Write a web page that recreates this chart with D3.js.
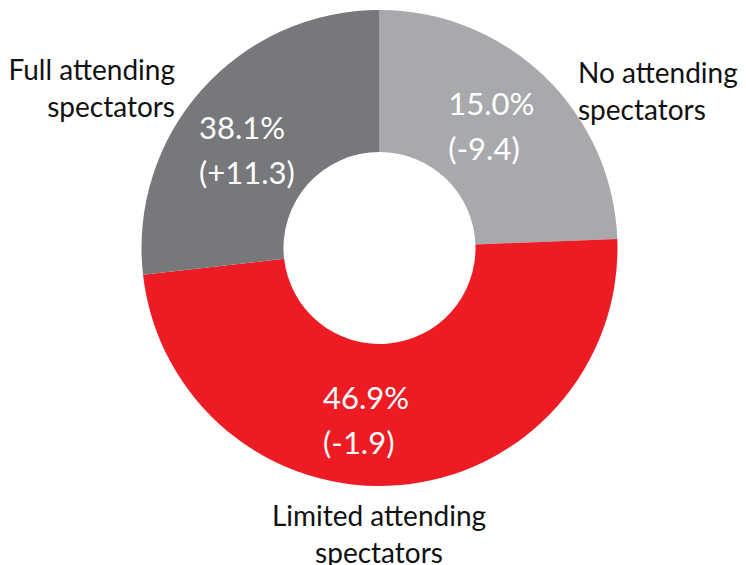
<!DOCTYPE html>
<html>
<head>
<meta charset="utf-8">
<script src="https://cdn.jsdelivr.net/npm/d3@7"></script>
<style>
  html, body { margin: 0; padding: 0; background: #fff; }
  svg { display: block; font-family: Lato, "Noto Sans", sans-serif; }
</style>
</head>
<body>
<svg id="chart" width="746" height="565"></svg>
<script>
// data
var categories = ["No attending spectators", "Limited attending spectators", "Full attending spectators"];
var shares = [15.0, 46.9, 38.1];      // current share, %
var changes = [-9.4, -1.9, 11.3];     // change in points
var colors = ["#a7a9ac", "#ed1c24", "#77787b"];

// layout
var W = 746, H = 565;
var cx = 379.5, cy = 248;
var outerR = 238, innerR = 96;

// white value label offsets from arc centroid (left edge, first baseline)
var valueOffsets = [[-47, -13], [-69, -6], [-56, 2]];
// black category label placement
var catLayout = [
  { x: 578, y: 83, anchor: "start" },
  { x: 379, y: 526, anchor: "middle" },
  { x: 175, y: 80, anchor: "end" }
];

var svg = d3.select("#chart");
var g = svg.append("g").attr("transform", "translate(" + cx + "," + cy + ")");

// slices are sized by the earlier share (current minus change)
var rows = categories.map(function (c, i) {
  return { name: c, share: shares[i], change: changes[i], prev: shares[i] - changes[i], color: colors[i] };
});

var pie = d3.pie().sort(null).value(function (d) { return d.prev; });
var arc = d3.arc().innerRadius(innerR).outerRadius(outerR);
var arcs = pie(rows);

g.selectAll("path.slice")
  .data(arcs)
  .enter().append("path")
  .attr("class", "slice")
  .attr("d", arc)
  .attr("fill", function (d) { return d.data.color; });

// value labels
arcs.forEach(function (a, i) {
  var c = arc.centroid(a);
  var t = g.append("text")
    .attr("fill", "#fff")
    .style("font-size", "31px")
    .attr("x", c[0] + valueOffsets[i][0])
    .attr("y", c[1] + valueOffsets[i][1]);
  t.append("tspan").text(d3.format(".1f")(a.data.share) + "%");
  t.append("tspan")
    .attr("x", c[0] + valueOffsets[i][0])
    .attr("dy", 45)
    .text("(" + (a.data.change > 0 ? "+" : "") + d3.format(".1f")(a.data.change).replace("−", "-") + ")");
});

// category labels
rows.forEach(function (d, i) {
  var words = d.name.split(" ");
  var lines = [words.slice(0, 2).join(" "), words.slice(2).join(" ")];
  var t = svg.append("text")
    .attr("fill", "#111")
    .style("font-size", "28px")
    .attr("text-anchor", catLayout[i].anchor)
    .attr("x", catLayout[i].x)
    .attr("y", catLayout[i].y);
  lines.forEach(function (l, j) {
    t.append("tspan")
      .attr("x", catLayout[i].x)
      .attr("dy", j === 0 ? 0 : 37)
      .text(l);
  });
});
</script>
</body>
</html>
